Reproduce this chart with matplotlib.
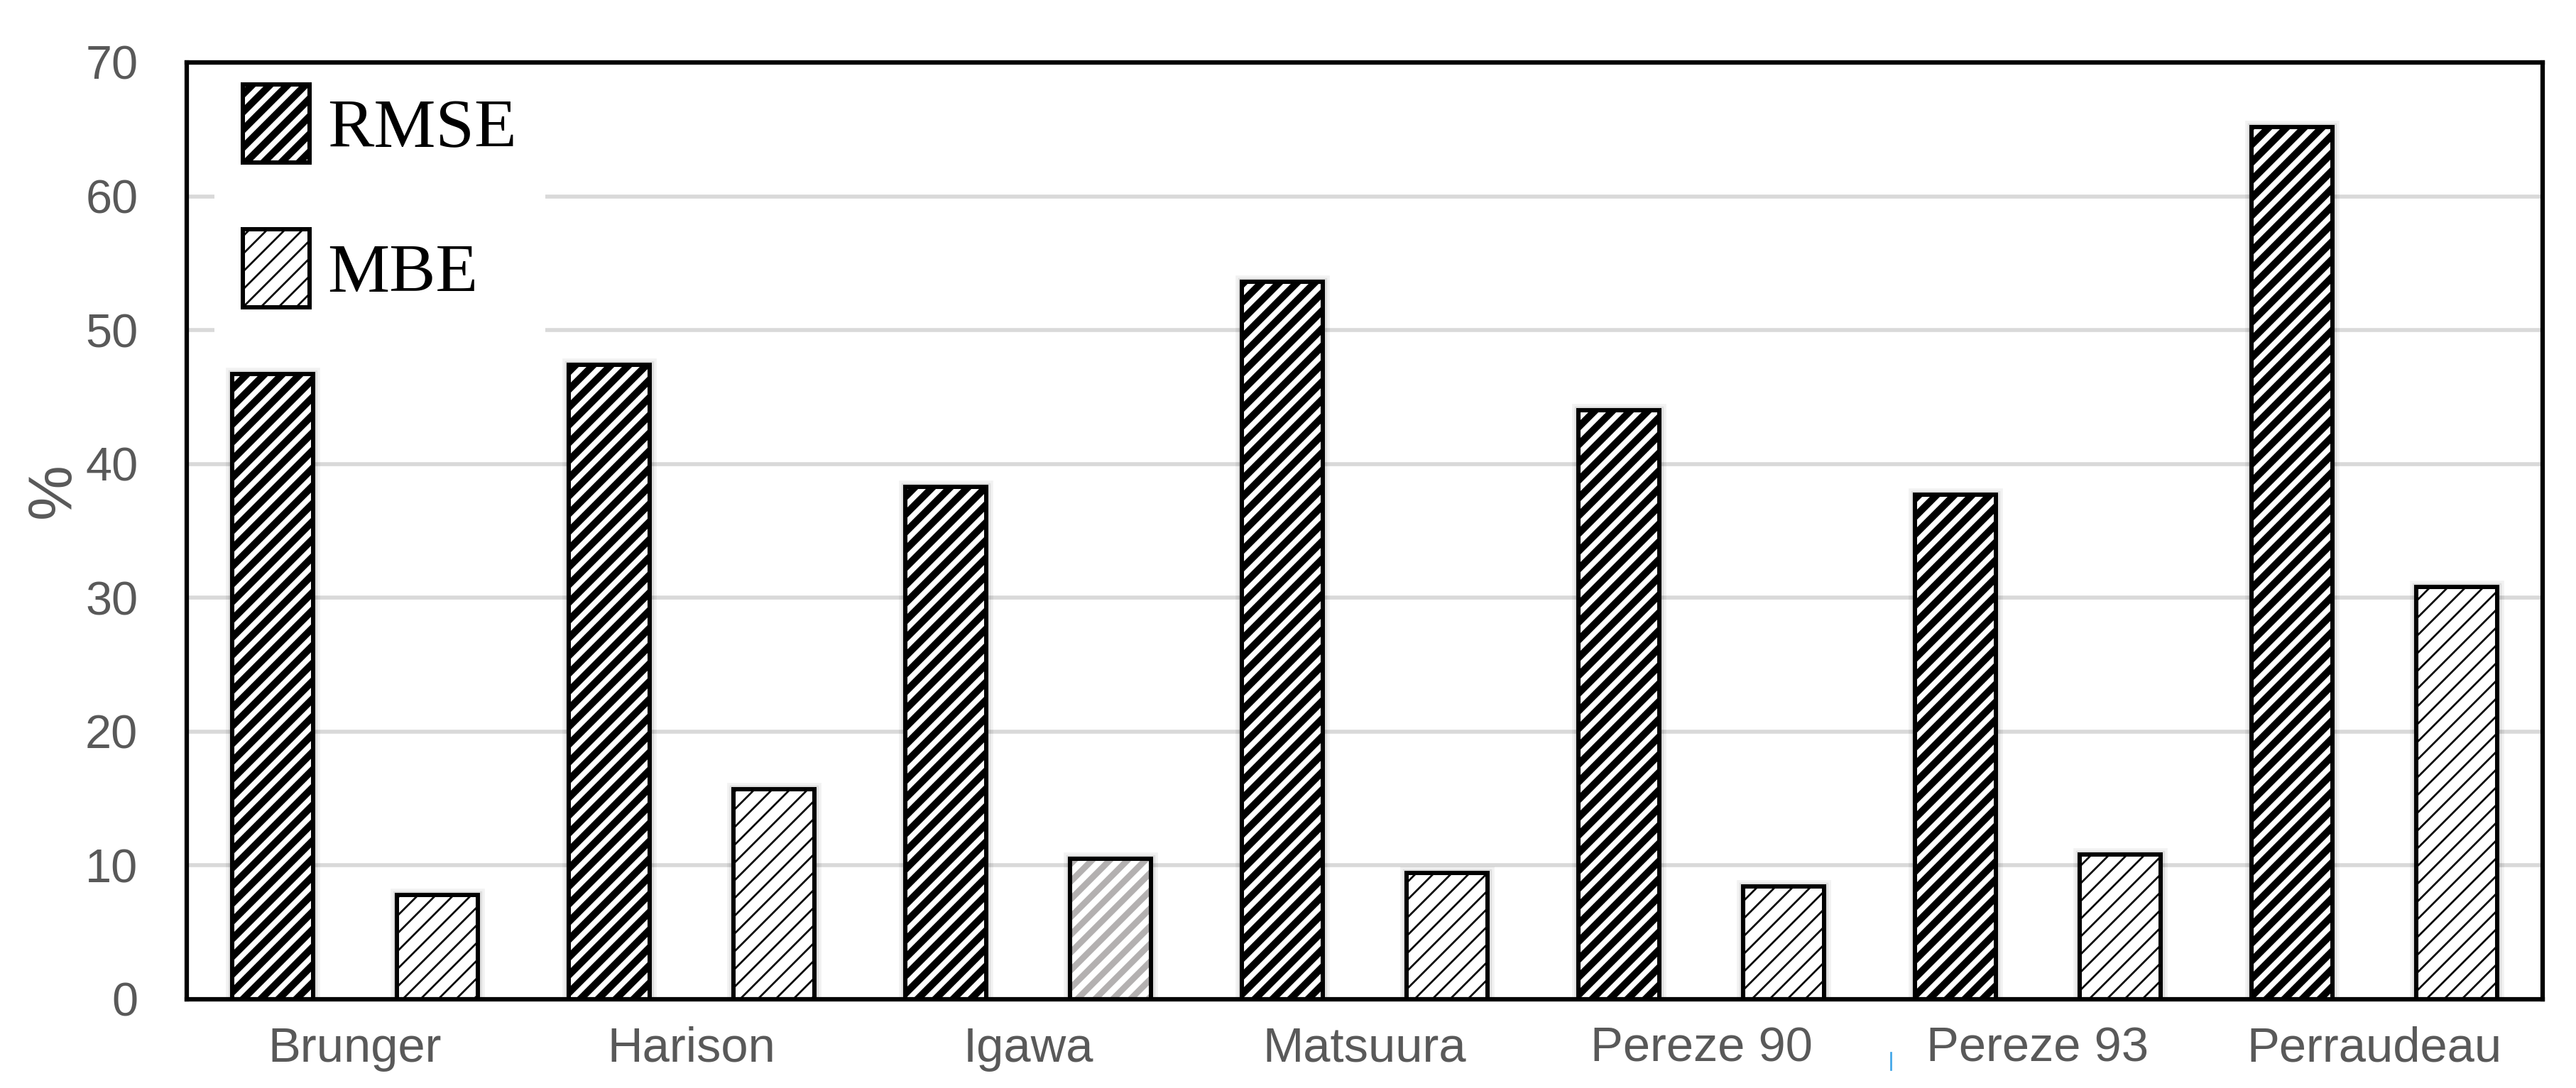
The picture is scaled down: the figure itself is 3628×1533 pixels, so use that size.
import matplotlib
matplotlib.use('Agg')
import matplotlib.pyplot as plt
from matplotlib.patches import Patch
from matplotlib.lines import Line2D
import numpy as np

# ---- data ----
categories = ['Brunger', 'Harison', 'Igawa', 'Matsuura', 'Pereze 90', 'Pereze 93', 'Perraudeau']
rmse = [46.7, 47.4, 38.3, 53.6, 44.0, 37.7, 65.2]
mbe = [7.8, 15.7, 10.5, 9.45, 8.45, 10.8, 30.8]
series_labels = ['RMSE', 'MBE']
mbe_hatch_colors = ['black', 'black', '#b3b0b0', 'black', 'black', 'black', 'black']
mbe_hatch_widths = [1.3, 1.3, 4.2, 1.3, 1.3, 1.3, 1.3]
yticks = [0, 10, 20, 30, 40, 50, 60, 70]

DPI = 150
W, H = 3628, 1533
fig = plt.figure(figsize=(W / DPI, H / DPI), dpi=DPI)
AX_L, AX_R, AX_T, AX_B = 263, 3581, 88, 1408
ax = fig.add_axes([AX_L / W, 1 - AX_B / H, (AX_R - AX_L) / W, (AX_B - AX_T) / H])

x = np.arange(len(categories))
width = 0.24
off = 0.245
TICK_COL = '#595959'
RMSE_HLW = 4.8
MBE_HLW = 1.3
HATCH = '//'


def set_hlw(artist, lw):
    if hasattr(artist, 'set_hatch_linewidth'):
        artist.set_hatch_linewidth(lw)
    else:
        artist._hatch_linewidth = lw


def hatched_bar(xpos, height, hatch_col, hatch_lw, zorder):
    plt.rcParams['hatch.linewidth'] = hatch_lw
    bars = ax.bar([xpos], [height], width, facecolor='white', edgecolor=hatch_col,
                  linewidth=0, hatch=HATCH, zorder=zorder)
    for b in bars:
        set_hlw(b, hatch_lw)
    return bars


for xpos, vals in ((x - off, rmse), (x + off, mbe)):
    # soft shadow glow
    ax.bar(xpos, vals, width, fill=False, edgecolor=(0, 0, 0, 0.05), linewidth=9, zorder=1.4)
    ax.bar(xpos, vals, width, fill=False, edgecolor=(0, 0, 0, 0.08), linewidth=5.5, zorder=1.5)

for i in range(len(categories)):
    hatched_bar(x[i] - off, rmse[i], 'black', RMSE_HLW, 2)
    hatched_bar(x[i] + off, mbe[i], mbe_hatch_colors[i], mbe_hatch_widths[i], 2)

# outlines
ax.bar(x - off, rmse, width, fill=False, edgecolor='black', linewidth=2.9, zorder=2.2)
ax.bar(x + off, mbe, width, fill=False, edgecolor='black', linewidth=2.9, zorder=2.2)

ax.set_xlim(-0.5, len(categories) - 0.5)
ax.set_ylim(0, 70)
ax.set_yticks(yticks)
ax.set_yticklabels([str(v) for v in yticks], fontfamily='Liberation Sans', fontsize=32, color=TICK_COL)
ax.set_xticks(x)
ax.set_xticklabels(categories, fontfamily='Liberation Sans', fontsize=33, color=TICK_COL)
ax.tick_params(axis='y', length=0, pad=33)
ax.tick_params(axis='x', length=0, pad=18)

ax.set_axisbelow(True)
ax.yaxis.grid(True, color='#d9d9d9', linewidth=2.7)
ax.xaxis.grid(False)

for s in ax.spines.values():
    s.set_linewidth(3.0)
    s.set_color('black')
    s.set_zorder(3)

ax.set_ylabel('%', fontfamily='Liberation Sans', fontsize=42, color=TICK_COL)
ax.yaxis.set_label_coords((116 - AX_L) / (AX_R - AX_L), 1 - (691 - AX_T) / (AX_B - AX_T))

# legend
LEG_FS = 47
h1 = Patch(facecolor='white', edgecolor='black', hatch=HATCH, linewidth=2.9, label=series_labels[0])
h2 = Patch(facecolor='white', edgecolor='black', hatch=HATCH, linewidth=2.9, label=series_labels[1])

leg = ax.legend(handles=[h1, h2], loc='upper left',
                bbox_to_anchor=((302 - AX_L) / (AX_R - AX_L), 1 - (79 - AX_T) / (AX_B - AX_T)),
                borderaxespad=0, borderpad=0.41, frameon=True, fancybox=False,
                facecolor='white', edgecolor='none', framealpha=1,
                prop={'family': 'Liberation Serif', 'size': LEG_FS},
                handlelength=0.96, handleheight=1.352, handletextpad=0.255,
                labelspacing=0.96)
leg.set_zorder(2.5)
handles = getattr(leg, 'legend_handles', None) or getattr(leg, 'legendHandles', [])
for hnd, lw in zip(handles, [RMSE_HLW, MBE_HLW]):
    set_hlw(hnd, lw)

# small blue stray mark near the Pereze 93 label
fig.add_artist(Line2D([2663 / W, 2663 / W], [1 - 1483 / H, 1 - 1507 / H],
                      transform=fig.transFigure, color='#41a6e8', linewidth=1.3))

fig.savefig('out.png', dpi=DPI, facecolor='white')
